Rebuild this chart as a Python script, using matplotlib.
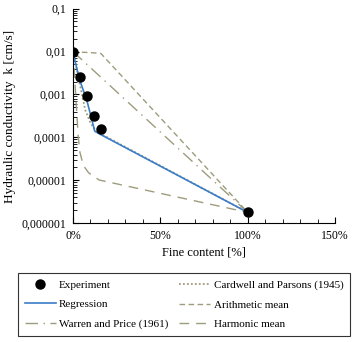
import matplotlib.pyplot as plt
from matplotlib.ticker import FixedLocator, MultipleLocator, LogLocator, FuncFormatter, NullFormatter

plt.rcParams['font.family'] = ['Liberation Serif', 'DejaVu Serif']

# measured points
exp_x = [0, 4, 8, 12, 16, 100]
exp_k = [0.01, 0.0025, 0.00093, 0.00031, 0.00016, 1.8e-6]

# regression
reg_x = [0, 4, 8, 12.5, 14.5, 100]
reg_k = [0.0093, 0.0021, 0.00072, 0.00014, 0.000125, 1.8e-6]

# Cardwell and Parsons (1945)
cp_x = [0, 2, 4, 7, 10, 13, 100]
cp_k = [0.01, 0.0042, 0.0017, 0.00044, 0.00022, 0.00014, 1.8e-6]

# arithmetic mean
ar_x = [0, 4, 8, 12, 16, 100]
ar_k = [0.01, 0.0097, 0.0095, 0.0093, 0.009, 1.8e-6]

# Warren and Price (1961)
wp_x = [0, 100]
wp_k = [0.01, 1.8e-6]

# harmonic mean
hm_x = [0, 1, 2, 3, 4, 6, 9, 15, 100]
hm_k = [0.01, 0.0025, 0.0005, 0.00011, 4.5e-5, 2.2e-5, 1.5e-5, 1.02e-5, 1.8e-6]

y_ticks = [1e-6, 1e-5, 1e-4, 1e-3, 1e-2, 1e-1]
y_labels = ['0,000001', '0,00001', '0,0001', '0,001', '0,01', '0,1']

olive = '#9e9c7c'

fig = plt.figure(figsize=(3.61, 3.42), dpi=100)
ax = fig.add_axes([0.202, 0.347, 0.726, 0.628])

l_cp, = ax.plot(cp_x, cp_k, linestyle=(0, (1, 1.2)), color=olive, lw=1.3)
l_ar, = ax.plot(ar_x, ar_k, linestyle=(0, (4, 2.5)), color=olive, lw=1)
l_wp, = ax.plot(wp_x, wp_k, linestyle=(0, (9, 4, 1, 4)), color=olive, lw=1)
l_hm, = ax.plot(hm_x, hm_k, linestyle=(0, (7, 5)), color=olive, lw=1)
l_reg, = ax.plot(reg_x, reg_k, color='#3b7dc8', lw=1.2)
l_exp, = ax.plot(exp_x, exp_k, 'o', color='black', markersize=6.5, linestyle='none')

ax.set_yscale('log')
ax.set_ylim(1e-6, 0.1)
ax.set_xlim(0, 150)
ax.yaxis.set_major_locator(FixedLocator(y_ticks))
ax.set_yticklabels(y_labels)
ax.yaxis.set_minor_locator(LogLocator(base=10, subs=range(2, 10)))
ax.yaxis.set_minor_formatter(NullFormatter())
ax.xaxis.set_major_locator(MultipleLocator(50))
ax.xaxis.set_minor_locator(MultipleLocator(10))
ax.xaxis.set_major_formatter(FuncFormatter(lambda v, p: f'{v:.0f}%'))

ax.tick_params(which='both', direction='in', labelsize=8.5, pad=5)
ax.tick_params(which='major', length=4)
ax.tick_params(which='minor', length=3)
for s in ['top', 'right']:
    ax.spines[s].set_visible(False)

ax.set_xlabel('Fine content [%]', fontsize=9, labelpad=3)
ax.set_ylabel('Hydraulic conductivity  k [cm/s]', fontsize=9.5, labelpad=4)

handles = [l_exp, l_reg, l_wp, l_cp, l_ar, l_hm]
labels = ['Experiment', 'Regression', 'Warren and Price (1961)',
          'Cardwell and Parsons (1945)', 'Arithmetic mean', 'Harmonic mean']
leg = fig.legend(handles, labels, ncol=2, loc='lower left',
                 bbox_to_anchor=(18 / 361, 1 - 336 / 342, 332 / 361, 64 / 342),
                 mode='expand', borderaxespad=0, fontsize=8, frameon=True,
                 fancybox=False, edgecolor='black', handlelength=2.8,
                 columnspacing=0.1, labelspacing=0.9, borderpad=0.6,
                 handletextpad=0.3)
leg.get_frame().set_linewidth(0.8)

fig.savefig('out.png', dpi=100)
